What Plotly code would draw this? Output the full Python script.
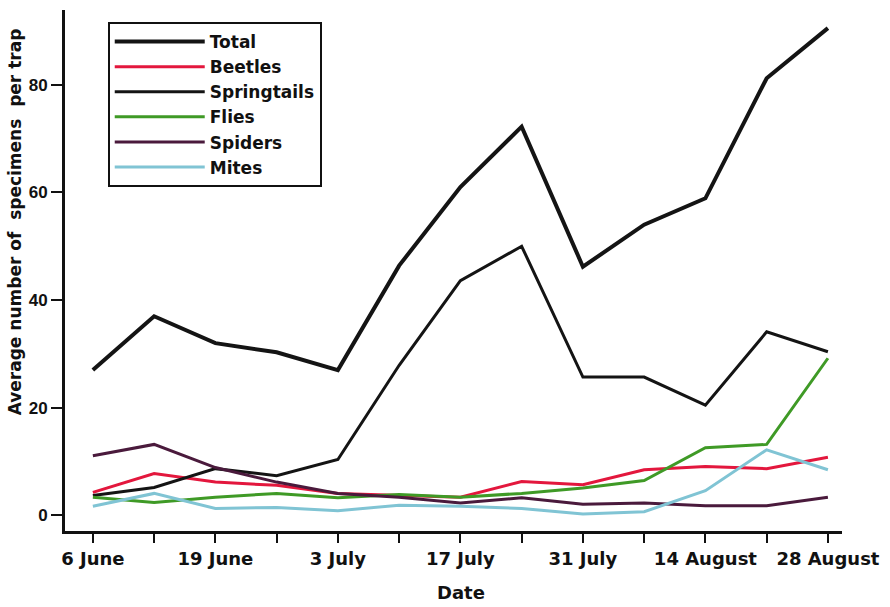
import plotly.graph_objects as go

x_idx = list(range(13))
tick_labels = ["6 June", "", "19 June", "", "3 July", "", "17 July", "",
               "31 July", "", "14 August", "", "28 August"]

total = [27, 37, 32, 30.3, 27, 46.4, 61, 72.2, 46.2, 54.0, 58.9, 81.2, 90.5]
beetles = [4.3, 7.8, 6.2, 5.6, 4.1, 3.7, 3.4, 6.3, 5.7, 8.5, 9.1, 8.7, 10.8]
springtails = [3.7, 5.2, 8.7, 7.4, 10.4, 27.9, 43.6, 50, 25.7, 25.7, 20.5, 34.1, 30.4]
flies = [3.4, 2.4, 3.4, 4.1, 3.3, 3.9, 3.4, 4.1, 5.1, 6.5, 12.6, 13.2, 29.2]
spiders = [11.1, 13.2, 8.9, 6.2, 4.1, 3.4, 2.3, 3.3, 2.1, 2.3, 1.8, 1.8, 3.4]
mites = [1.7, 4.1, 1.3, 1.5, 0.9, 1.9, 1.7, 1.3, 0.3, 0.7, 4.6, 12.2, 8.5]

series = [
    ("Total", total, "#141414", 4),
    ("Beetles", beetles, "#e3173d", 3),
    ("Springtails", springtails, "#141414", 3),
    ("Flies", flies, "#3f9a26", 3),
    ("Spiders", spiders, "#4a1a3c", 3),
    ("Mites", mites, "#80c4d4", 3),
]

fig = go.Figure()
for name, vals, col, w in series:
    fig.add_trace(go.Scatter(x=x_idx, y=vals, mode="lines", name=name,
                             line=dict(color=col, width=w)))

bold = "DejaVu Sans"
fig.update_layout(
    width=890, height=607,
    margin=dict(l=65, r=45, t=10, b=76),
    paper_bgcolor="white", plot_bgcolor="white",
    showlegend=True,
    legend=dict(x=0.055, y=0.977, xanchor="left", yanchor="top",
                bordercolor="#111", borderwidth=2, bgcolor="white",
                font=dict(family=bold, size=17, color="#111", weight="bold"),
                itemwidth=90, tracegroupgap=0,
                traceorder="normal"),
    xaxis=dict(range=[-0.455, 12.23], tickmode="array", tickvals=x_idx,
               ticktext=tick_labels, showline=True, linecolor="#111",
               linewidth=3, ticks="outside", ticklen=9, tickwidth=2,
               tickcolor="#111", showgrid=False, zeroline=False,
               tickfont=dict(family=bold, size=18, color="#111", weight="bold")),
    yaxis=dict(range=[-2.88, 93.87], tickvals=[0, 20, 40, 60, 80],
               showline=True, linecolor="#111", linewidth=3,
               ticks="outside", ticklen=11, tickwidth=2, tickcolor="#111",
               showgrid=False, zeroline=False,
               tickfont=dict(family="Liberation Sans", size=17, color="#111",
                             weight="bold")),
    annotations=[
        dict(text="Date", xref="paper", yref="paper", x=0.51, y=-0.118,
             showarrow=False, xanchor="center", yanchor="middle",
             font=dict(family=bold, size=18, color="#111", weight="bold")),
        dict(text="Average number of  specimens  per trap", xref="paper",
             yref="paper", x=-0.064, y=0.593, textangle=-90, showarrow=False,
             xanchor="center", yanchor="middle",
             font=dict(family=bold, size=17, color="#111", weight="bold")),
    ],
)

fig.write_html("out.html")
